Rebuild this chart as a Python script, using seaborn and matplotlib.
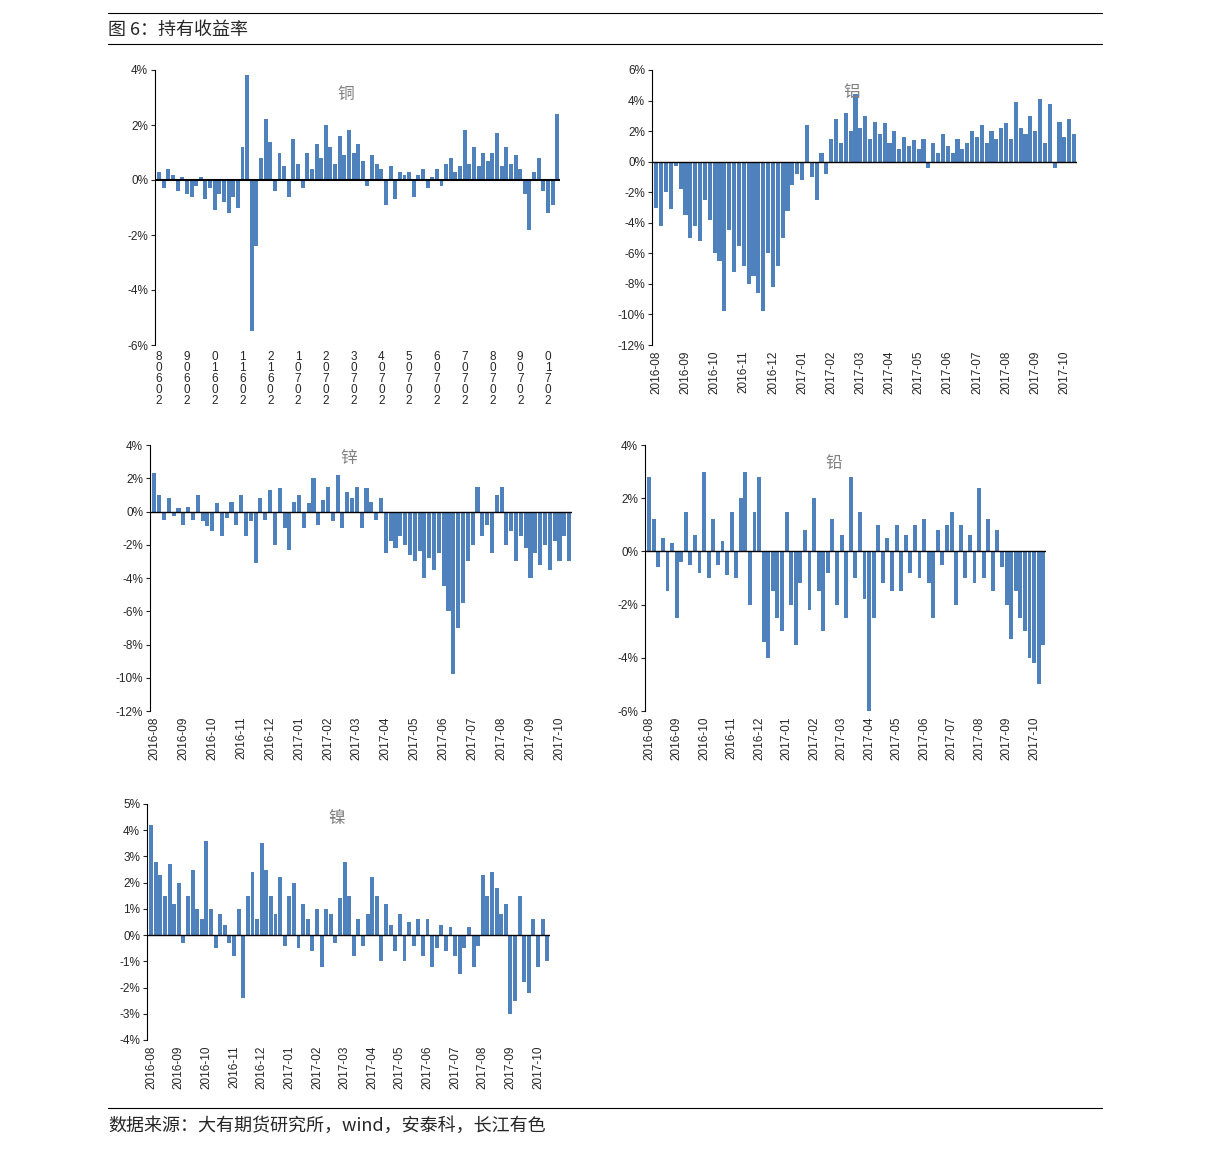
import numpy as np
import pandas as pd
import matplotlib
matplotlib.use("Agg")
import matplotlib.pyplot as plt
import seaborn as sns

sns.set_style("white")
plt.rcParams['font.family'] = ['Noto Sans CJK SC', 'DejaVu Sans']

# month tick labels
months = ["2016-08", "2016-09", "2016-10", "2016-11", "2016-12", "2017-01", "2017-02",
          "2017-03", "2017-04", "2017-05", "2017-06", "2017-07", "2017-08", "2017-09", "2017-10"]

# holding yield (%), ~6 samples per month
copper = [0.3, -0.3, 0.4, 0.2, -0.4, 0.1, -0.5, -0.6, -0.2, 0.1, -0.7, -0.3,
          -1.1, -0.5, -0.8, -1.2, -0.6, -1.0, 1.2, 3.8, -5.5, -2.4, 0.8, 2.2,
          1.4, -0.4, 1.0, 0.5, -0.6, 1.5, 0.6, -0.3, 1.0, 0.4, 1.3, 0.8,
          2.0, 1.2, 0.6, 1.6, 0.9, 1.8, 1.0, 1.3, 0.7, -0.2, 0.9, 0.6,
          0.4, -0.9, 0.5, -0.7, 0.3, 0.2, 0.3, -0.6, 0.2, 0.4, -0.3, 0.1,
          0.4, -0.2, 0.6, 0.8, 0.3, 0.5, 1.8, 0.6, 1.2, 0.5, 1.0, 0.7,
          1.0, 1.7, 0.5, 1.2, 0.6, 0.9, 0.4, -0.5, -1.8, 0.3, 0.8, -0.4,
          -1.2, -0.9, 2.4]
aluminum = [-3.0, -4.2, -2.0, -3.1, -0.3, -1.8, -3.5, -5.0, -4.2, -5.2, -2.5, -3.8,
            -6.0, -6.5, -9.8, -4.5, -7.2, -5.5, -6.8, -8.0, -7.5, -8.6, -9.8, -6.0,
            -8.2, -6.8, -5.0, -3.2, -1.5, -0.8, -1.2, 2.4, -1.0, -2.5, 0.6, -0.8,
            1.5, 2.8, 1.2, 3.2, 2.0, 4.4, 2.2, 3.0, 1.5, 2.6, 1.8, 2.5,
            1.2, 2.0, 0.8, 1.6, 1.0, 1.4, 0.8, 1.5, -0.4, 1.2, 0.6, 1.8,
            1.0, 0.6, 1.5, 0.8, 1.2, 2.0, 1.6, 2.4, 1.2, 2.0, 1.5, 2.2,
            2.5, 1.5, 3.9, 2.2, 1.8, 3.0, 2.0, 4.1, 1.2, 3.8, -0.4, 2.6,
            1.6, 2.8, 1.8]
zinc = [2.3, 1.0, -0.5, 0.8, -0.3, 0.2, -0.8, 0.3, -0.5, 1.0, -0.6, -0.9,
        -1.2, 0.5, -1.5, -0.4, 0.6, -0.8, 1.0, -1.5, -0.6, -3.1, 0.8, -0.5,
        1.3, -2.0, 1.4, -1.0, -2.3, 0.6, 1.0, -1.0, 0.5, 2.0, -0.8, 0.7,
        1.5, -0.6, 2.2, -1.0, 1.2, 0.8, 1.5, -1.0, 1.4, 0.6, -0.5, 0.8,
        -2.5, -1.8, -2.2, -1.5, -2.0, -2.6, -3.0, -2.4, -4.0, -2.8, -3.5, -2.5,
        -4.5, -6.0, -9.8, -7.0, -5.5, -3.0, -2.0, 1.5, -1.5, -0.8, -2.5, 1.0,
        1.5, -2.0, -1.2, -3.0, -1.5, -2.2, -4.0, -2.5, -3.2, -2.0, -3.5, -1.8,
        -3.0, -1.5, -3.0]
lead = [2.8, 1.2, -0.6, 0.5, -1.5, 0.3, -2.5, -0.4, 1.5, -0.5, 0.6, -0.8,
        3.0, -1.0, 1.2, -0.5, 0.4, -0.9, 1.5, -1.0, 2.0, 3.0, -2.0, 1.5,
        2.8, -3.4, -4.0, -1.5, -2.5, -3.0, 1.5, -2.0, -3.5, -1.2, 0.8, -2.2,
        2.0, -1.5, -3.0, -0.8, 1.2, -2.0, 0.6, -2.5, 2.8, -1.0, 1.5, -1.8,
        -6.0, -2.5, 1.0, -1.2, 0.5, -1.5, 1.0, -1.5, 0.6, -0.8, 1.0, -1.0,
        1.2, -1.2, -2.5, 0.8, -0.5, 1.0, 1.5, -2.0, 1.0, -1.0, 0.6, -1.2,
        2.4, -1.0, 1.2, -1.5, 0.8, -0.6, -2.0, -3.3, -1.5, -2.5, -3.0, -4.0,
        -4.2, -5.0, -3.5]
nickel = [4.2, 2.8, 2.3, 1.5, 2.7, 1.2, 2.0, -0.3, 1.5, 2.5, 1.0, 0.6,
          3.6, 1.0, -0.5, 0.8, 0.4, -0.3, -0.8, 1.0, -2.4, 1.5, 2.4, 0.6,
          3.5, 2.5, 1.5, 0.8, 2.2, -0.4, 1.5, 2.0, -0.5, 1.2, 0.6, -0.6,
          1.0, -1.2, 1.0, 0.8, -0.3, 1.4, 2.8, 1.5, -0.8, 0.6, -0.4, 0.8,
          2.2, 1.5, -1.0, 1.2, 0.4, -0.6, 0.8, -1.0, 0.5, -0.4, 0.6, -0.8,
          0.6, -1.2, -0.5, 0.4, -0.6, 0.3, -0.8, -1.5, -0.5, 0.3, -1.2, -0.4,
          2.3, 1.5, 2.4, 1.8, 0.8, 1.2, -3.0, -2.5, 1.5, -1.8, -2.2, 0.6,
          -1.2, 0.6, -1.0]

W, H = 1224, 1156
fig = plt.figure(figsize=(W / 100, H / 100), dpi=100)
BAR = "#4F81BD"


def panel(box, vals, name, ylim, ystep, copper_style=False, name_y=0.9):
    x0, y0, x1, y1 = box
    ax = fig.add_axes([x0 / W, 1 - y1 / H, (x1 - x0) / W, (y1 - y0) / H])
    df = pd.DataFrame({"t": np.arange(len(vals)) / 6.0, "v": vals})
    sns.barplot(data=df, x="t", y="v", native_scale=True, color=BAR,
                width=0.85, errorbar=None, ax=ax, saturation=1, linewidth=0)
    ax.set_xlim(-0.15, (len(vals) - 1) / 6.0 + 0.1)
    ax.set_ylim(*ylim)
    yt = np.arange(ylim[0], ylim[1] + 0.01, ystep)
    ax.set_yticks(yt)
    ax.set_yticklabels([f"{int(v)}%" for v in yt], fontsize=8.5, family="Liberation Sans")
    ax.axhline(0, color="black", lw=1.5 if copper_style else 1)
    for s in ["top", "right", "bottom"]:
        ax.spines[s].set_visible(False)
    ax.spines["left"].set_color("black")
    ax.tick_params(axis="y", length=3, width=0.8, left=True, pad=2)
    ax.set_xticks(np.arange(len(months)))
    if copper_style:
        labs = ["\n".join([m[6], m[5], m[3], m[1], m[0]]) for m in months]
        ax.set_xticklabels(labs, fontsize=8.5, linespacing=0.9, family="Liberation Sans")
    else:
        ax.set_xticklabels(months, rotation=90, fontsize=8.5, family="Liberation Sans")
    ax.tick_params(axis="x", length=0, pad=4)
    ax.set_xlabel("")
    ax.set_ylabel("")
    ax.text(0.47, name_y, name, transform=ax.transAxes, fontsize=12, color="#808080",
            ha="center", va="center")
    return ax


panel((155, 70, 560, 345), copper, "铜", (-6, 4), 2, copper_style=True, name_y=0.91)
panel((652, 70, 1077, 345), aluminum, "铝", (-12, 6), 2, name_y=0.92)
panel((150, 445, 572, 711), zinc, "锌", (-12, 4), 2, name_y=0.95)
panel((645, 445, 1046, 711), lead, "铅", (-6, 4), 2, name_y=0.93)
panel((147, 804, 550, 1040), nickel, "镍", (-4, 5), 1, name_y=0.94)

# header / footer rules and text
for yy in (13, 44, 1108):
    fig.add_artist(plt.Line2D([108 / W, 1102 / W], [1 - yy / H, 1 - yy / H],
                              color="black", lw=0.8))
fig.text(108 / W, 1 - 30 / H, "图 6：持有收益率", fontsize=13, va="center", ha="left")
fig.text(108 / W, 1 - 1126 / H, "数据来源：大有期货研究所，wind，安泰科，长江有色",
         fontsize=13, va="center", ha="left", style="italic")

fig.savefig("out.png", dpi=100)
